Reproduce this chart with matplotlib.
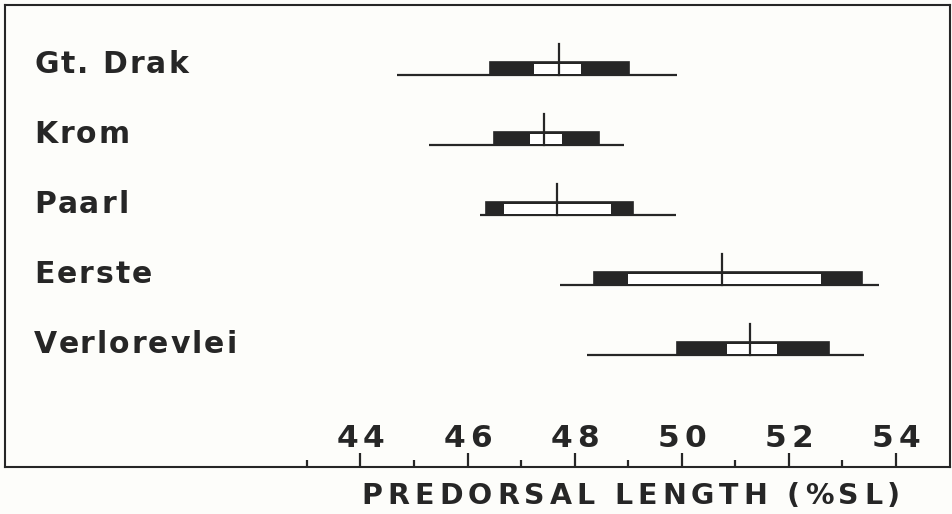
import matplotlib
matplotlib.use('Agg')
import matplotlib.pyplot as plt
from matplotlib.font_manager import FontProperties
from matplotlib.patches import Rectangle

# Hubbs-style diagram, predorsal length as % of standard length
sites = ['Gt. Drak', 'Krom', 'Paarl', 'Eerste', 'Verlorevlei']
range_lo = [44.69, 45.28, 46.24, 47.73, 48.24]
range_hi = [49.91, 48.92, 49.89, 53.69, 53.41]
sd_lo = [46.42, 46.50, 46.34, 48.36, 49.91]
sd_hi = [49.01, 48.45, 49.09, 53.36, 52.75]
ci_lo = [47.25, 47.16, 46.69, 49.00, 50.85]
ci_hi = [48.11, 47.77, 48.67, 52.60, 51.78]
means = [47.70, 47.43, 47.68, 50.76, 51.28]
major_ticks = [44, 46, 48, 50, 52, 54]
minor_ticks = [43, 45, 47, 49, 51, 53]
xlabel = 'PREDORSAL LENGTH (%SL)'

W, H = 952, 514
ink = '#262626'
bg = '#fdfdfa'

fig = plt.figure(figsize=(W / 100, H / 100), dpi=100, facecolor=bg)
# axes in pixel units vertically (frame 5..467 px)
ax = fig.add_axes([5 / W, (H - 467) / H, 945 / W, 462 / H], facecolor=bg)
ax.set_xlim(37.364, 55.009)
ax.set_ylim(467, 5)
for s in ax.spines.values():
    s.set_linewidth(1.5)
    s.set_color(ink)

ax.set_xticks(major_ticks)
ax.set_xticks(minor_ticks, minor=True)
ax.tick_params(axis='x', which='major', direction='in', length=10, width=1.6,
               color=ink, labelbottom=False)
ax.tick_params(axis='x', which='minor', direction='in', length=5, width=1.6,
               color=ink)
ax.set_yticks([])

row0, row_step = 75, 70
box_h = 13
mean_h = 31

for i in range(len(sites)):
    y = row0 + i * row_step
    ax.plot([range_lo[i], range_hi[i]], [y, y], color=ink, lw=1.6,
            solid_capstyle='butt', zorder=2)
    ax.add_patch(Rectangle((sd_lo[i], y - box_h), sd_hi[i] - sd_lo[i], box_h,
                           facecolor=ink, edgecolor=ink, lw=1.2, zorder=3))
    ax.add_patch(Rectangle((ci_lo[i], y - box_h + 2), ci_hi[i] - ci_lo[i], box_h - 3.5,
                           facecolor='white', edgecolor='none', zorder=4))
    ax.plot([means[i], means[i]], [y - mean_h, y], color=ink, lw=1.6, zorder=5)

renderer = fig.canvas.get_renderer()


def spaced_text(x, y, s, size, gap, ha='left'):
    # matplotlib has no letter spacing, so place the characters one by one
    fp = FontProperties(family='DejaVu Sans', weight='bold', size=size)

    def width(t):
        return renderer.get_text_width_height_descent(t, fp, ismath=False)[0]

    wx = width('x')
    offs = [0] + [width(s[:k] + 'x') - wx + k * gap for k in range(1, len(s))]
    total = offs[-1] + width(s[-1])
    start = x - total / 2 if ha == 'center' else x
    for ch, o in zip(s, offs):
        if ch != ' ':
            fig.text((start + o) / W, 1 - y / H, ch, fontproperties=fp,
                     color=ink, ha='left', va='baseline')


for i, name in enumerate(sites):
    spaced_text(34, row0 + i * row_step - 2, name, 21.5, 2)

for t in major_ticks:
    px = ax.transData.transform((t, 0))[0]
    spaced_text(px, 447, str(t), 22.5, 5, ha='center')

spaced_text(631, 504, xlabel, 20.5, 5, ha='center')

fig.savefig('out.png', dpi=100, facecolor=bg)
